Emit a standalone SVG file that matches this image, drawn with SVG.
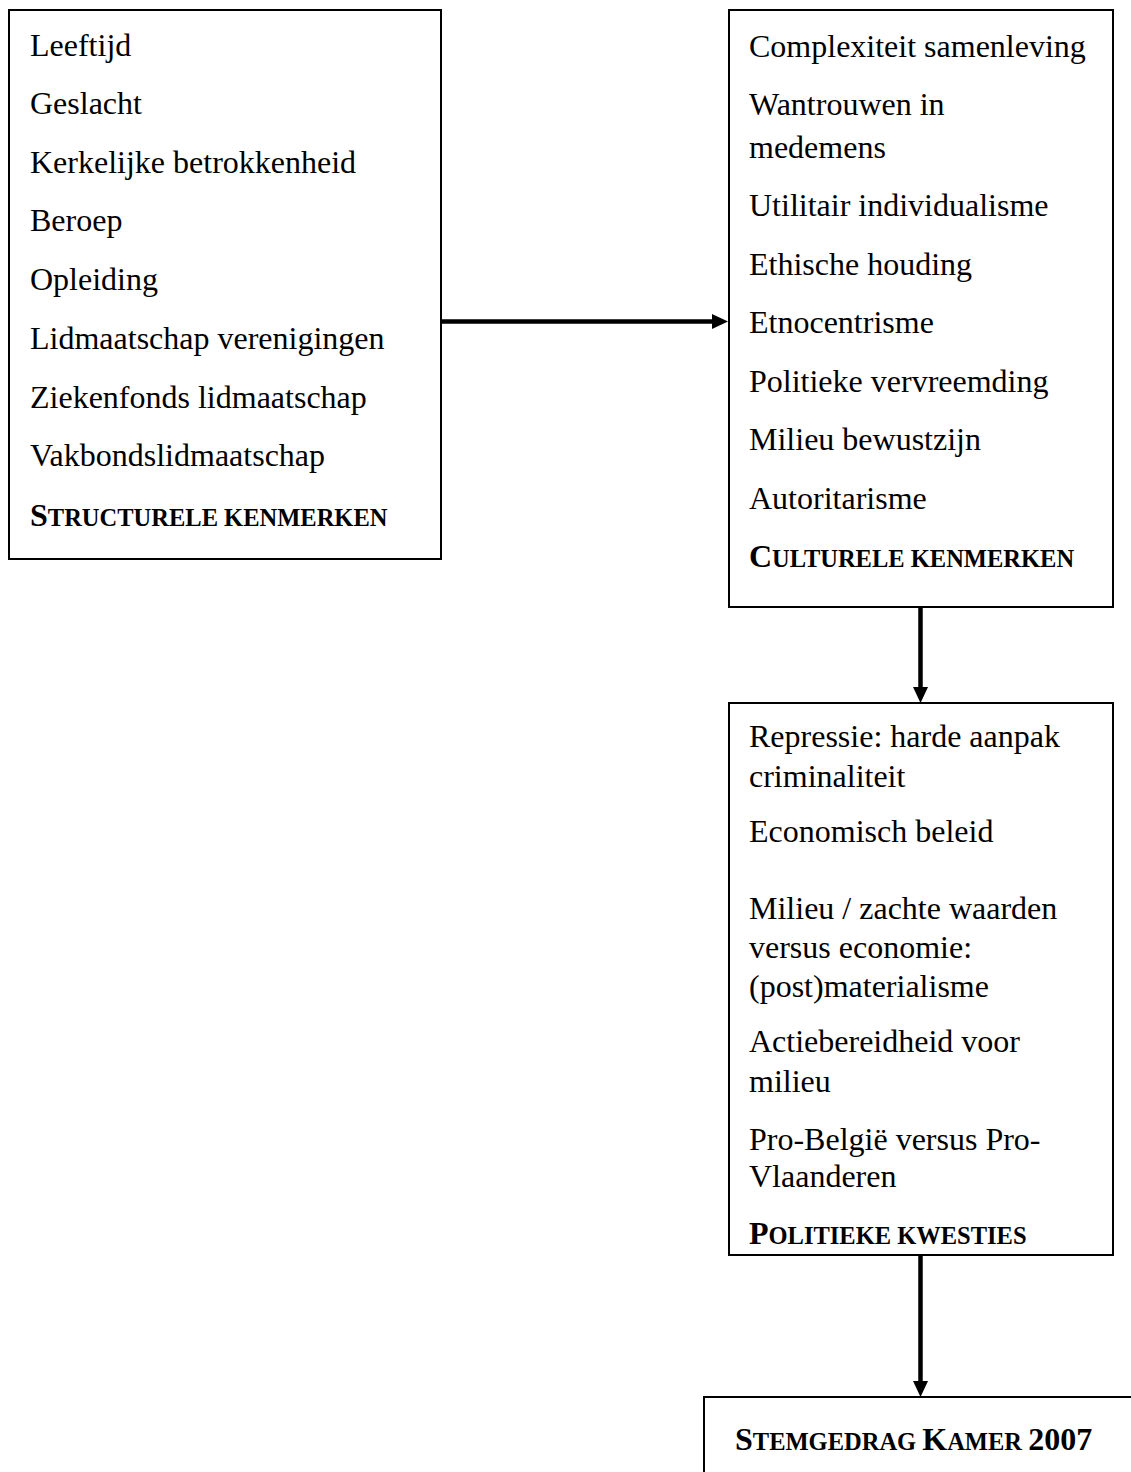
<svg xmlns="http://www.w3.org/2000/svg" width="1131" height="1472" viewBox="0 0 1131 1472">
<style>
.box{fill:#fff;stroke:#000;stroke-width:2}
.t{font-family:"Liberation Serif","Times New Roman",serif;font-size:32px;fill:#000}
.h{font-family:"Liberation Serif","Times New Roman",serif;font-size:32px;font-weight:bold;fill:#000}
.sc{font-size:24.5px}
.conn{stroke:#000;stroke-width:4.5;fill:none}
</style>
<defs>
<marker id="ah" markerUnits="userSpaceOnUse" markerWidth="16" markerHeight="16" viewBox="0 0 16 16" refX="2" refY="8" orient="auto">
<path d="M0,0.5 L16,8 L0,15.5 z" fill="#000"/>
</marker>
</defs>
<g id="connectors">
<line class="conn" x1="442" y1="321.5" x2="714" y2="321.5" marker-end="url(#ah)"/>
<line class="conn" x1="920.5" y1="608" x2="920.5" y2="689" marker-end="url(#ah)"/>
<line class="conn" x1="920.5" y1="1256" x2="920.5" y2="1383" marker-end="url(#ah)"/>
</g>
<g id="structurele">
<rect class="box" x="9" y="10" width="432" height="549"/>
<text class="t" x="30" y="56">Leeftijd</text>
<text class="t" x="30" y="114">Geslacht</text>
<text class="t" x="30" y="173">Kerkelijke betrokkenheid</text>
<text class="t" x="30" y="231">Beroep</text>
<text class="t" x="30" y="290">Opleiding</text>
<text class="t" x="30" y="349">Lidmaatschap verenigingen</text>
<text class="t" x="30" y="408">Ziekenfonds lidmaatschap</text>
<text class="t" x="30" y="466">Vakbondslidmaatschap</text>
<text class="h" x="30" y="526">S<tspan class="sc">TRUCTURELE KENMERKEN</tspan></text>
</g>
<g id="culturele">
<rect class="box" x="729" y="10" width="384" height="597"/>
<text class="t" x="749" y="57">Complexiteit samenleving</text>
<text class="t" x="749" y="115">Wantrouwen in</text>
<text class="t" x="749" y="158">medemens</text>
<text class="t" x="749" y="216">Utilitair individualisme</text>
<text class="t" x="749" y="275">Ethische houding</text>
<text class="t" x="749" y="333">Etnocentrisme</text>
<text class="t" x="749" y="392">Politieke vervreemding</text>
<text class="t" x="749" y="450">Milieu bewustzijn</text>
<text class="t" x="749" y="509">Autoritarisme</text>
<text class="h" x="749" y="567">C<tspan class="sc">ULTURELE KENMERKEN</tspan></text>
</g>
<g id="politieke">
<rect class="box" x="729" y="703" width="384" height="552"/>
<text class="t" x="749" y="747">Repressie: harde aanpak</text>
<text class="t" x="749" y="787">criminaliteit</text>
<text class="t" x="749" y="842">Economisch beleid</text>
<text class="t" x="749" y="919">Milieu / zachte waarden</text>
<text class="t" x="749" y="958">versus economie:</text>
<text class="t" x="749" y="997">(post)materialisme</text>
<text class="t" x="749" y="1052">Actiebereidheid voor</text>
<text class="t" x="749" y="1092">milieu</text>
<text class="t" x="749" y="1150">Pro-België versus Pro-</text>
<text class="t" x="749" y="1187">Vlaanderen</text>
<text class="h" x="749" y="1244">P<tspan class="sc">OLITIEKE KWESTIES</tspan></text>
</g>
<g id="stemgedrag">
<rect class="box" x="704" y="1397" width="460" height="100"/>
<text class="h" x="735" y="1450">S<tspan class="sc">TEMGEDRAG </tspan>K<tspan class="sc">AMER </tspan>2007</text>
</g>
</svg>
